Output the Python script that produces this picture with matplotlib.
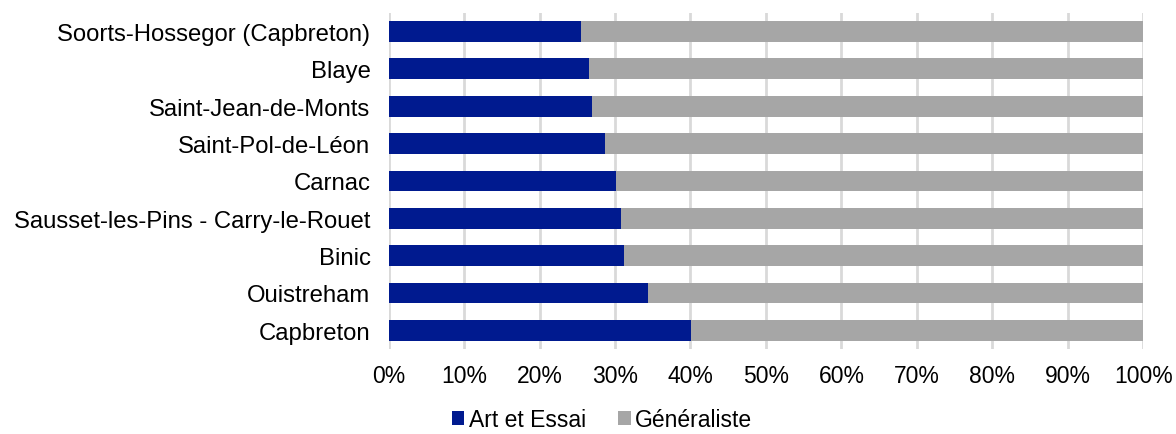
import matplotlib
matplotlib.use("Agg")
import matplotlib.pyplot as plt
from matplotlib.ticker import PercentFormatter, MultipleLocator

categories = ["Soorts-Hossegor (Capbreton)", "Blaye", "Saint-Jean-de-Monts",
              "Saint-Pol-de-Léon", "Carnac", "Sausset-les-Pins - Carry-le-Rouet",
              "Binic", "Ouistreham", "Capbreton"]
art_essai = [25.5, 26.6, 27.0, 28.7, 30.1, 30.8, 31.2, 34.4, 40.1]
generaliste = [100 - v for v in art_essai]
series_names = ["Art et Essai", "Généraliste"]

plt.rcParams['font.family'] = ['Liberation Sans', 'DejaVu Sans']

fig = plt.figure(figsize=(11.76, 4.35), dpi=100)
ax = fig.add_axes([0.3304, 0.1954, 0.6418, 0.7726])

y = list(range(len(categories)))
ax.barh(y, art_essai, height=0.56, color="#001A8F", label=series_names[0], zorder=3)
ax.barh(y, generaliste, left=art_essai, height=0.56, color="#A6A6A6", label=series_names[1], zorder=3)

ax.set_xlim(0, 100)
ax.set_ylim(len(categories) - 0.5, -0.5)
ax.set_yticks(y)
ax.set_yticklabels(categories, fontsize=17.2, va='center_baseline')
ax.xaxis.set_major_locator(MultipleLocator(10))
ax.xaxis.set_major_formatter(PercentFormatter(decimals=0))
ax.tick_params(axis='x', labelsize=16.5, length=0, pad=11)
ax.tick_params(axis='y', length=0, pad=13)
ax.grid(axis='x', color="#D9D9D9", linewidth=2, zorder=0)
for s in ax.spines.values():
    s.set_visible(False)

leg = fig.legend(loc="lower center", bbox_to_anchor=(0.512, -0.04), ncol=2, frameon=False,
                 fontsize=16.5, handlelength=0.55, handleheight=0.55, handletextpad=0.2,
                 columnspacing=1.4)

fig.savefig("out.png", dpi=100)
